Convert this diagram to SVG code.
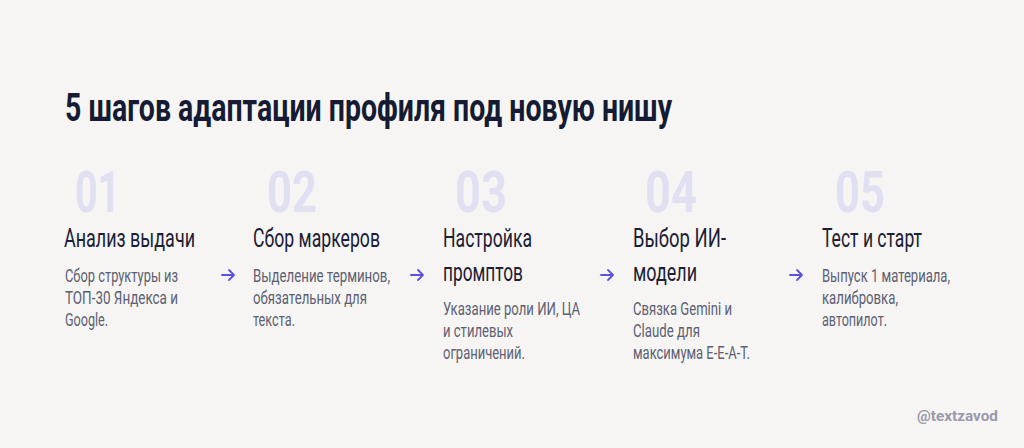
<svg xmlns="http://www.w3.org/2000/svg" width="1024" height="448" viewBox="0 0 1024 448">
<defs>
<style>
text{font-family:Roboto,"Noto Sans","DejaVu Sans",sans-serif}
.title{font-size:38.5px;font-weight:700;fill:#141b33}
.num{font-size:57px;font-weight:700;fill:#e1e0f3}
.head{font-size:25px;font-weight:400;fill:#1b2035}
.body{font-size:19px;font-weight:400;fill:#5c5f72}
.wm{font-size:15px;font-weight:700;fill:#9a9aab}
.arr{fill:none;stroke:#5b51e1;stroke-width:1.8;stroke-linecap:round;stroke-linejoin:round}
</style>
</defs>
<rect width="1024" height="448" fill="#f6f5f3"/>
<text class="title" x="65" y="121" textLength="607" lengthAdjust="spacingAndGlyphs">5 шагов адаптации профиля под новую нишу</text>

<g id="step1">
<text class="num" x="75" y="212" textLength="45" lengthAdjust="spacingAndGlyphs">01</text>
<text class="head" x="64" y="247" textLength="131" lengthAdjust="spacingAndGlyphs">Анализ выдачи</text>
<text class="body" x="65" y="282" textLength="113" lengthAdjust="spacingAndGlyphs">Сбор структуры из</text>
<text class="body" x="65" y="304" textLength="113" lengthAdjust="spacingAndGlyphs">ТОП-30 Яндекса и</text>
<text class="body" x="65" y="326" textLength="43" lengthAdjust="spacingAndGlyphs">Google.</text>
</g>

<g id="step2">
<text class="num" x="267" y="212" textLength="50" lengthAdjust="spacingAndGlyphs">02</text>
<text class="head" x="253" y="247" textLength="127" lengthAdjust="spacingAndGlyphs">Сбор маркеров</text>
<text class="body" x="253" y="282" textLength="137" lengthAdjust="spacingAndGlyphs">Выделение терминов,</text>
<text class="body" x="253" y="304" textLength="114" lengthAdjust="spacingAndGlyphs">обязательных для</text>
<text class="body" x="253" y="326" textLength="42" lengthAdjust="spacingAndGlyphs">текста.</text>
</g>

<g id="step3">
<text class="num" x="455" y="212" textLength="52" lengthAdjust="spacingAndGlyphs">03</text>
<text class="head" x="443" y="247" textLength="89" lengthAdjust="spacingAndGlyphs">Настройка</text>
<text class="head" x="443" y="281" textLength="80" lengthAdjust="spacingAndGlyphs">промптов</text>
<text class="body" x="443" y="315" textLength="137" lengthAdjust="spacingAndGlyphs">Указание роли ИИ, ЦА</text>
<text class="body" x="443" y="337" textLength="70" lengthAdjust="spacingAndGlyphs">и стилевых</text>
<text class="body" x="443" y="359" textLength="82" lengthAdjust="spacingAndGlyphs">ограничений.</text>
</g>

<g id="step4">
<text class="num" x="645" y="212" textLength="52" lengthAdjust="spacingAndGlyphs">04</text>
<text class="head" x="633" y="247" textLength="93" lengthAdjust="spacingAndGlyphs">Выбор ИИ-</text>
<text class="head" x="633" y="281" textLength="64" lengthAdjust="spacingAndGlyphs">модели</text>
<text class="body" x="633" y="315" textLength="99" lengthAdjust="spacingAndGlyphs">Связка Gemini и</text>
<text class="body" x="633" y="337" textLength="67" lengthAdjust="spacingAndGlyphs">Claude для</text>
<text class="body" x="633" y="359" textLength="117" lengthAdjust="spacingAndGlyphs">максимума E-E-A-T.</text>
</g>

<g id="step5">
<text class="num" x="835" y="212" textLength="50" lengthAdjust="spacingAndGlyphs">05</text>
<text class="head" x="822" y="247" textLength="100" lengthAdjust="spacingAndGlyphs">Тест и старт</text>
<text class="body" x="822" y="282" textLength="128" lengthAdjust="spacingAndGlyphs">Выпуск 1 материала,</text>
<text class="body" x="822" y="304" textLength="76" lengthAdjust="spacingAndGlyphs">калибровка,</text>
<text class="body" x="822" y="326" textLength="65" lengthAdjust="spacingAndGlyphs">автопилот.</text>
</g>

<g id="connectors">
<path class="arr" d="M222 275H234M229 270L234 275L229 280"/>
<path class="arr" d="M411 275H423M418 270L423 275L418 280"/>
<path class="arr" d="M601 275H613M608 270L613 275L608 280"/>
<path class="arr" d="M790 275H802M797 270L802 275L797 280"/>
</g>

<text class="wm" x="917" y="421" textLength="81" lengthAdjust="spacingAndGlyphs">@textzavod</text>
</svg>
